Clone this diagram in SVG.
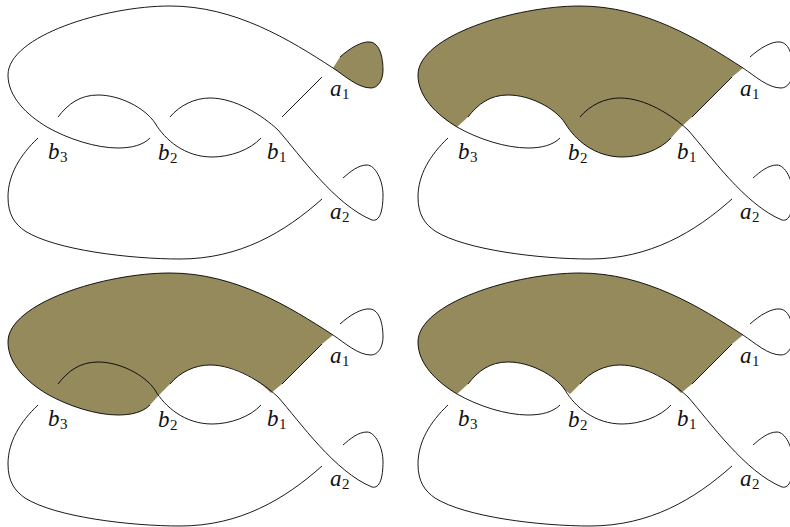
<svg xmlns="http://www.w3.org/2000/svg" width="790" height="527" viewBox="0 0 790 527">
<style>
.s{fill:none;stroke:#000;stroke-width:.9;stroke-linecap:butt}
.f{fill:#948a5c;stroke:none}
text{font-family:"Liberation Serif","Times New Roman",serif;font-size:23px;font-style:italic;fill:#111}
tspan{font-size:15px;font-style:normal}
</style>
<defs>
<g id="knot" class="s">
<path id="main" d="M340,57 C350,48 362,41 370,42 C380,43 383,58 383,70 C383,80 378,88 371,88 C358,88 345,76 333,68 C290,40 235,6 170,6 C105,6 8,36 8,75 C8,97 27,115 47,127 C68,139 96,148 118,148 C132,148 143,145 150,138"/>
<path d="M58,117 C68,104 80,95 98,95 C120,95 145,108 155,123 C165,140 185,157 212,157 C230,157 250,150 261,138"/>
<path d="M170,117 C180,105 195,98 210,98 C235,98 262,115 278,130 C300,155 335,205 372,220 C380,222 383,210 383,195 C383,180 375,165 367,165 C358,165 350,172 343,178"/>
<path d="M282,117 L322,77"/>
<path d="M38,138 C20,155 8,175 8,197 C8,215 15,224 25,231 C55,250 130,259 180,259 C240,259 285,232 322,199"/>
</g>
</defs>
<g id="panel-1">
<path class="f" d="M340,57 C350,48 362,41 370,42 C380,43 383,58 383,70 C383,80 378,88 371,88 C358,88 345,76 333,68 Z"/>
<use href="#knot"/>
<text x="330" y="96">a<tspan dy="3" dx="0.5">1</tspan></text>
<text x="330" y="219">a<tspan dy="3" dx="0.5">2</tspan></text>
<text x="267" y="159">b<tspan dy="3" dx="0.5">1</tspan></text>
<text x="158" y="160">b<tspan dy="3" dx="0.5">2</tspan></text>
<text x="48" y="159">b<tspan dy="3" dx="0.5">3</tspan></text>
</g>
<g id="panel-2" transform="translate(410,0)">
<path class="f" d="M333,68 C290,40 235,6 170,6 C105,6 8,36 8,75 C8,97 27,115 47,127 L58,117 C68,104 80,95 98,95 C120,95 145,108 155,123 C165,140 185,157 212,157 C230,157 250,150 261,138 L271,127 L282,117 L322,77 Z"/>
<use href="#knot"/>
<text x="330" y="96">a<tspan dy="3" dx="0.5">1</tspan></text>
<text x="330" y="219">a<tspan dy="3" dx="0.5">2</tspan></text>
<text x="267" y="159">b<tspan dy="3" dx="0.5">1</tspan></text>
<text x="158" y="160">b<tspan dy="3" dx="0.5">2</tspan></text>
<text x="48" y="159">b<tspan dy="3" dx="0.5">3</tspan></text>
</g>
<g id="panel-3" transform="translate(0,267)">
<path class="f" d="M333,68 C290,40 235,6 170,6 C105,6 8,36 8,75 C8,97 27,115 47,127 C68,139 96,148 118,148 C132,148 143,145 150,138 L160,127 L170,117 C180,105 195,98 210,98 C235,98 258,112 271,126 L282,117 L322,77 Z"/>
<use href="#knot"/>
<text x="330" y="96">a<tspan dy="3" dx="0.5">1</tspan></text>
<text x="330" y="219">a<tspan dy="3" dx="0.5">2</tspan></text>
<text x="267" y="159">b<tspan dy="3" dx="0.5">1</tspan></text>
<text x="158" y="160">b<tspan dy="3" dx="0.5">2</tspan></text>
<text x="48" y="159">b<tspan dy="3" dx="0.5">3</tspan></text>
</g>
<g id="panel-4" transform="translate(410,267)">
<path class="f" d="M333,68 C290,40 235,6 170,6 C105,6 8,36 8,75 C8,97 27,115 47,127 L58,117 C68,104 80,95 98,95 C120,95 145,108 155,123 L160,127 L170,117 C180,105 195,98 210,98 C235,98 258,112 271,126 L282,117 L322,77 Z"/>
<use href="#knot"/>
<text x="330" y="96">a<tspan dy="3" dx="0.5">1</tspan></text>
<text x="330" y="219">a<tspan dy="3" dx="0.5">2</tspan></text>
<text x="267" y="159">b<tspan dy="3" dx="0.5">1</tspan></text>
<text x="158" y="160">b<tspan dy="3" dx="0.5">2</tspan></text>
<text x="48" y="159">b<tspan dy="3" dx="0.5">3</tspan></text>
</g>
</svg>
